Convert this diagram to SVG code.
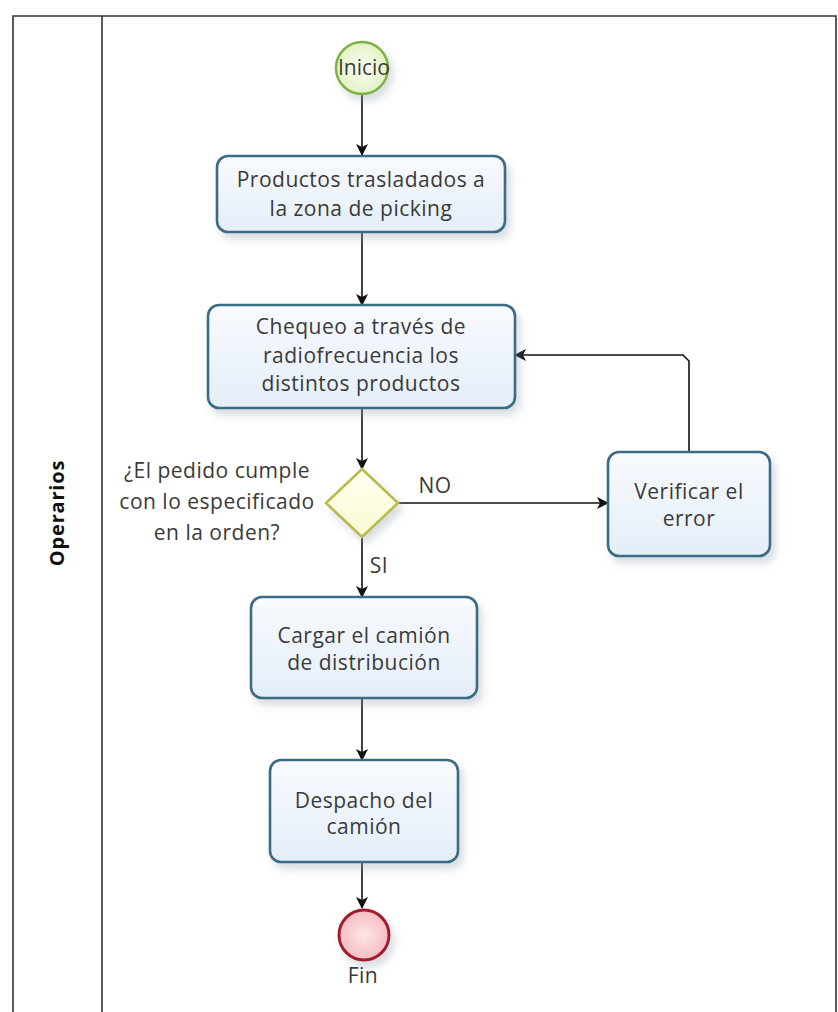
<svg xmlns="http://www.w3.org/2000/svg" width="838" height="1012" viewBox="0 0 838 1012">
<defs>
<linearGradient id="gBox" x1="0" y1="0" x2="0" y2="1">
<stop offset="0" stop-color="#f8fafe"/>
<stop offset="1" stop-color="#e4eef8"/>
</linearGradient>
<radialGradient id="gStart" cx="0.5" cy="0.5" r="0.5">
<stop offset="0" stop-color="#fbfdf4"/>
<stop offset="1" stop-color="#e2f2c4"/>
</radialGradient>
<radialGradient id="gEnd" cx="0.5" cy="0.5" r="0.5">
<stop offset="0" stop-color="#fde6e8"/>
<stop offset="1" stop-color="#f5bcc2"/>
</radialGradient>
<linearGradient id="gDia" x1="0" y1="0" x2="0" y2="1">
<stop offset="0" stop-color="#fffff2"/>
<stop offset="1" stop-color="#fafad2"/>
</linearGradient>
<filter id="sh" x="-20%" y="-20%" width="150%" height="160%">
<feDropShadow dx="4" dy="6" stdDeviation="4" flood-color="#8a9aa8" flood-opacity="0.35"/>
</filter>
<marker id="arr" viewBox="0 0 12 12" refX="11" refY="6" markerWidth="12" markerHeight="12" markerUnits="userSpaceOnUse" orient="auto">
<path d="M0,0 L12,6 L0,12 L3,6 Z" fill="#111"/>
</marker>
<style>
.lane{fill:none;stroke:#333;stroke-width:1.6}
.box{fill:url(#gBox);stroke:#3a6c85;stroke-width:2.6;filter:url(#sh)}
.t{font-family:"Open Sans","Noto Sans",sans-serif;font-size:21px;letter-spacing:0.5px;fill:#3a3a3a;text-anchor:middle}
.c{fill:none;stroke:#111;stroke-width:1.6}
</style>
</defs>
<rect width="838" height="1012" fill="#fff"/>
<g id="pool">
<path class="lane" d="M13,1012 V16 H836 V1012"/>
<line class="lane" x1="102" y1="16" x2="102" y2="1012"/>
<text x="0" y="0" transform="translate(64,513) rotate(-90)" style="font-family:'Open Sans','Noto Sans',sans-serif;font-size:20px;letter-spacing:0.8px;font-weight:bold;fill:#111;text-anchor:middle">Operarios</text>
</g>
<g id="connectors">
<line class="c" x1="362" y1="95" x2="362" y2="155" marker-end="url(#arr)"/>
<line class="c" x1="362" y1="232" x2="362" y2="305" marker-end="url(#arr)"/>
<line class="c" x1="362" y1="408" x2="362" y2="469" marker-end="url(#arr)"/>
<line class="c" x1="398" y1="503" x2="608" y2="503" marker-end="url(#arr)"/>
<line class="c" x1="362" y1="537" x2="362" y2="597" marker-end="url(#arr)"/>
<line class="c" x1="362" y1="698" x2="362" y2="760" marker-end="url(#arr)"/>
<line class="c" x1="362" y1="862" x2="362" y2="908" marker-end="url(#arr)"/>
<path class="c" d="M689,452 V361 L683,355 H515" marker-end="url(#arr)"/>
<text class="t" x="435" y="493">NO</text>
<text class="t" x="379" y="573">SI</text>
</g>
<g id="start">
<circle cx="362" cy="68" r="26" fill="url(#gStart)" stroke="#7cb342" stroke-width="2.5" filter="url(#sh)"/>
<text class="t" x="364" y="75" style="letter-spacing:0">Inicio</text>
</g>
<g id="task1">
<rect class="box" x="217" y="156" width="288" height="76" rx="11"/>
<text class="t" x="361" y="187">Productos trasladados a</text>
<text class="t" x="361" y="216">la zona de picking</text>
</g>
<g id="task2">
<rect class="box" x="208" y="305" width="307" height="103" rx="11"/>
<text class="t" x="361" y="334">Chequeo a través de</text>
<text class="t" x="361" y="363">radiofrecuencia los</text>
<text class="t" x="361" y="391">distintos productos</text>
</g>
<g id="gateway">
<path d="M362,469 L398,503 L362,537 L326,503 Z" fill="url(#gDia)" stroke="#b9bb4a" stroke-width="2.5" filter="url(#sh)"/>
<text class="t" x="217" y="478">¿El pedido cumple</text>
<text class="t" x="217" y="509">con lo especificado</text>
<text class="t" x="217" y="540">en la orden?</text>
</g>
<g id="task3">
<rect class="box" x="608" y="452" width="162" height="104" rx="11"/>
<text class="t" x="689" y="499">Verificar el</text>
<text class="t" x="689" y="526">error</text>
</g>
<g id="task4">
<rect class="box" x="251" y="597" width="226" height="101" rx="11"/>
<text class="t" x="364" y="643">Cargar el camión</text>
<text class="t" x="364" y="670">de distribución</text>
</g>
<g id="task5">
<rect class="box" x="270" y="760" width="188" height="102" rx="11"/>
<text class="t" x="364" y="808">Despacho del</text>
<text class="t" x="364" y="834">camión</text>
</g>
<g id="end">
<circle cx="364" cy="935" r="25" fill="url(#gEnd)" stroke="#a31f2e" stroke-width="3" filter="url(#sh)"/>
<text class="t" x="363" y="983">Fin</text>
</g>
</svg>
